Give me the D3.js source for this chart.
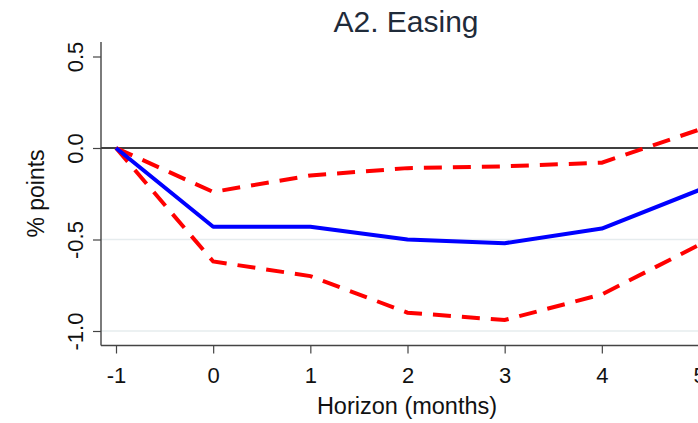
<!DOCTYPE html>
<html>
<head>
<meta charset="utf-8">
<script src="https://cdn.jsdelivr.net/npm/d3@7"></script>
<style>
  html, body { margin: 0; padding: 0; background: #fff; }
  svg { display: block; font-family: Arial, "Liberation Sans", sans-serif; }
</style>
</head>
<body>
<svg id="chart" width="698" height="423"></svg>
<script>
// Impulse response: horizon in months, point estimate and confidence band
const horizons = [-1, 0, 1, 2, 3, 4, 5];
const estimate = [0, -0.43, -0.43, -0.50, -0.52, -0.44, -0.23];
const upperBand = [0, -0.24, -0.15, -0.11, -0.10, -0.08, 0.10];
const lowerBand = [0, -0.62, -0.70, -0.90, -0.94, -0.80, -0.53];
const yTicks = [0.5, 0.0, -0.5, -1.0];
const gridTicks = [-0.5, -1.0];

const svg = d3.select("#chart");
const plotLeft = 101, plotRight = 713, plotTop = 42, plotBottom = 345.5;

const x = d3.scaleLinear().domain([-1, 5]).range([116, 699]);
const y = d3.scaleLinear().domain([0, -1]).range([148, 331]);

// light grid lines
svg.append("g").selectAll("line").data(gridTicks).join("line")
  .attr("x1", plotLeft).attr("x2", plotRight)
  .attr("y1", d => y(d)).attr("y2", d => y(d))
  .attr("stroke", "#e6ecee").attr("stroke-width", 1.5);

// zero reference line
svg.append("line")
  .attr("x1", plotLeft).attr("x2", plotRight)
  .attr("y1", y(0)).attr("y2", y(0))
  .attr("stroke", "#000").attr("stroke-width", 1.4);

// y axis (labels written with a plain hyphen)
const yAxis = d3.axisLeft(y).tickValues(yTicks).tickSize(8).tickFormat(d => d.toFixed(1));
const gy = svg.append("g").attr("transform", `translate(${plotLeft},0)`).call(yAxis);
gy.select(".domain").remove();
gy.selectAll(".tick line").attr("stroke", "#444").attr("stroke-width", 1.2);
gy.selectAll(".tick text")
  .attr("transform", "rotate(-90)")
  .attr("x", 0).attr("y", -18)
  .attr("dy", 0)
  .attr("text-anchor", "middle")
  .attr("font-size", 22)
  .attr("fill", "#111");
svg.append("line")
  .attr("x1", plotLeft).attr("x2", plotLeft).attr("y1", plotTop).attr("y2", plotBottom)
  .attr("stroke", "#444").attr("stroke-width", 1.4);

// x axis
const xAxis = d3.axisBottom(x).tickValues(horizons).tickSize(8).tickFormat(d => String(d));
const gx = svg.append("g").attr("transform", `translate(0,${plotBottom})`).call(xAxis);
gx.select(".domain").remove();
gx.selectAll(".tick line").attr("stroke", "#444").attr("stroke-width", 1.2);
gx.selectAll(".tick text")
  .attr("y", 37.5).attr("dy", 0)
  .attr("font-size", 22).attr("fill", "#111");
svg.append("line")
  .attr("x1", plotLeft).attr("x2", plotRight).attr("y1", plotBottom).attr("y2", plotBottom)
  .attr("stroke", "#444").attr("stroke-width", 1.4);

// series
const pts = vals => horizons.map((h, i) => [h, vals[i]]);
const line = d3.line().x(d => x(d[0])).y(d => y(d[1]));

svg.append("path").datum(pts(upperBand))
  .attr("d", line).attr("fill", "none")
  .attr("stroke", "#ff0000").attr("stroke-width", 4)
  .attr("stroke-dasharray", "18,11");
svg.append("path").datum(pts(lowerBand))
  .attr("d", line).attr("fill", "none")
  .attr("stroke", "#ff0000").attr("stroke-width", 4)
  .attr("stroke-dasharray", "18,11");
svg.append("path").datum(pts(estimate))
  .attr("d", line).attr("fill", "none")
  .attr("stroke", "#0000ff").attr("stroke-width", 4)
  .attr("stroke-linejoin", "round");

// titles
svg.append("text")
  .attr("x", 406).attr("y", 32)
  .attr("text-anchor", "middle")
  .attr("font-size", 30).attr("fill", "#1f2b3a")
  .text("A2. Easing");

svg.append("text")
  .attr("x", 407).attr("y", 414)
  .attr("text-anchor", "middle")
  .attr("font-size", 23.5).attr("fill", "#111")
  .text("Horizon (months)");

svg.append("text")
  .attr("transform", `translate(44,193.5) rotate(-90)`)
  .attr("text-anchor", "middle")
  .attr("font-size", 23).attr("fill", "#111")
  .text("% points");
</script>
</body>
</html>
